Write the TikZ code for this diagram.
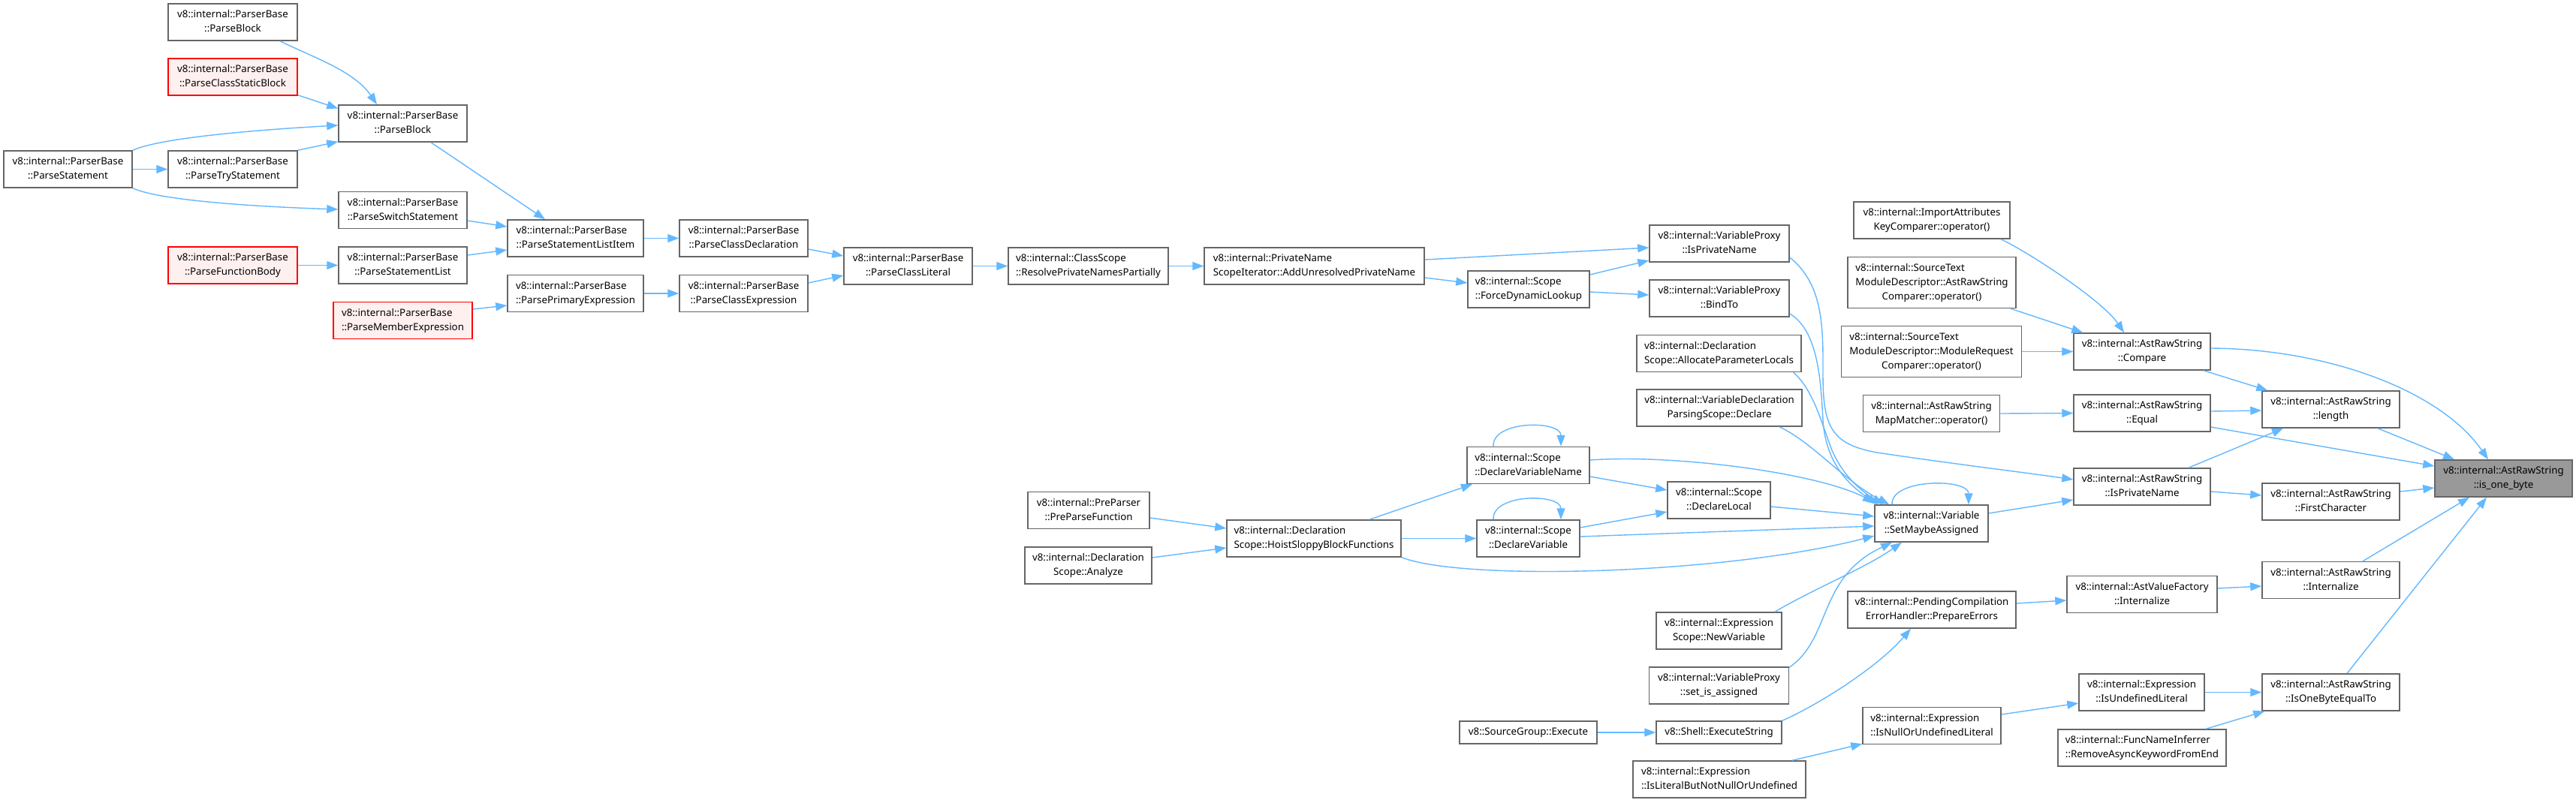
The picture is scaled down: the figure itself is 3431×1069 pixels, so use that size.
\documentclass[tikz,border=0pt]{standalone}
\usepackage{fontspec}
\setmainfont{Noto Sans}
\usetikzlibrary{arrows.meta,calc}
\definecolor{edgeblue}{HTML}{63B8FF}
\definecolor{boxgray}{HTML}{666666}
\definecolor{redfill}{HTML}{FFF0F0}
\definecolor{focusfill}{HTML}{999999}
\newcommand{\lbltwo}[2]{\begin{tabular}{@{}l@{}}#1\\\multicolumn{1}{@{}c@{}}{#2}\end{tabular}}
\newcommand{\lblthree}[3]{\begin{tabular}{@{}l@{}}#1\\#2\\\multicolumn{1}{@{}c@{}}{#3}\end{tabular}}
\newcommand{\boxfont}{\fontsize{13.3pt}{19pt}\selectfont}
\tikzset{
  box/.style={draw=boxgray, line width=1.5pt, fill=white, inner sep=0pt, font=\boxfont, minimum height=49pt},
  redbox/.style={box, draw=red, fill=redfill},
  focus/.style={box, fill=focusfill},
  calls/.style={draw=edgeblue, line width=1.4pt, -{Triangle[length=15pt,width=11pt]}}
}
\begin{document}
\begin{tikzpicture}[x=1pt,y=-1pt]
\fill[white] (0,0) rectangle (3431,1069);
\useasboundingbox (0,0) rectangle (3431,1069);

% nodes
\node[box,minimum width=172pt] (pblockA) at (310,29.5) {\lbltwo{v8::internal::ParserBase}{::ParseBlock}};
\node[redbox,minimum width=172pt] (pcsb) at (310,102.5) {\lbltwo{v8::internal::ParserBase}{::ParseClassStaticBlock}};
\node[box,minimum width=171pt] (pstmt) at (90.5,225.5) {\lbltwo{v8::internal::ParserBase}{::ParseStatement}};
\node[box,minimum width=172pt] (ptry) at (310,225.5) {\lbltwo{v8::internal::ParserBase}{::ParseTryStatement}};
\node[redbox,minimum width=172pt] (pfb) at (310,353.5) {\lbltwo{v8::internal::ParserBase}{::ParseFunctionBody}};
\node[box,minimum width=171pt] (pblock) at (536.5,164.5) {\lbltwo{v8::internal::ParserBase}{::ParseBlock}};
\node[box,minimum width=171pt] (pswitch) at (536.5,280) {\lbltwo{v8::internal::ParserBase}{::ParseSwitchStatement}};
\node[box,minimum width=171pt] (pstlist) at (536.5,353.5) {\lbltwo{v8::internal::ParserBase}{::ParseStatementList}};
\node[redbox,minimum width=185pt] (pmember) at (536.5,427) {\lbltwo{v8::internal::ParserBase}{::ParseMemberExpression}};
\node[box,minimum width=181pt] (psli) at (766.5,317.5) {\lbltwo{v8::internal::ParserBase}{::ParseStatementListItem}};
\node[box,minimum width=181pt] (pprim) at (766.5,391) {\lbltwo{v8::internal::ParserBase}{::ParsePrimaryExpression}};
\node[box,minimum width=171pt] (pcdecl) at (990.5,317.5) {\lbltwo{v8::internal::ParserBase}{::ParseClassDeclaration}};
\node[box,minimum width=171pt] (pcexpr) at (990.5,391) {\lbltwo{v8::internal::ParserBase}{::ParseClassExpression}};
\node[box,minimum width=171pt] (pclit) at (1209.5,354.5) {\lbltwo{v8::internal::ParserBase}{::ParseClassLiteral}};
\node[box,minimum width=213pt] (resolve) at (1449.5,354.5) {\lbltwo{v8::internal::ClassScope}{::ResolvePrivateNamesPartially}};
\node[box,minimum width=293pt] (addunres) at (1750.5,354.5) {\lbltwo{v8::internal::PrivateName}{ScopeIterator::AddUnresolvedPrivateName}};
\node[box,minimum width=162pt] (preparse) at (1450,680) {\lbltwo{v8::internal::PreParser}{::PreParseFunction}};
\node[box,minimum width=169pt] (analyze) at (1449.5,753.5) {\lbltwo{v8::internal::Declaration}{Scope::Analyze}};
\node[box,minimum width=232pt] (hoist) at (1750,717.5) {\lbltwo{v8::internal::Declaration}{Scope::HoistSloppyBlockFunctions}};
\node[box,minimum width=162pt] (force) at (2036,385.5) {\lbltwo{v8::internal::Scope}{::ForceDynamicLookup}};
\node[box,minimum width=163pt] (dvname) at (2035.5,620) {\lbltwo{v8::internal::Scope}{::DeclareVariableName}};
\node[box,minimum width=137pt] (dvar) at (2035.5,717.5) {\lbltwo{v8::internal::Scope}{::DeclareVariable}};
\node[box,minimum width=183pt,minimum height=30pt] (sgexec) at (2035.5,976) {v8::SourceGroup::Execute};
\node[box,minimum width=186pt] (vpipn) at (2290,324.5) {\lbltwo{v8::internal::VariableProxy}{::IsPrivateName}};
\node[box,minimum width=186pt] (bindto) at (2290,397.5) {\lbltwo{v8::internal::VariableProxy}{::BindTo}};
\node[box,minimum width=219pt] (alloc) at (2289.5,471) {\lbltwo{v8::internal::Declaration}{Scope::AllocateParameterLocals}};
\node[box,minimum width=220pt] (vdecl) at (2290,543.5) {\lbltwo{v8::internal::VariableDeclaration}{ParsingScope::Declare}};
\node[box,minimum width=137pt] (dlocal) at (2289.5,666.5) {\lbltwo{v8::internal::Scope}{::DeclareLocal}};
\node[box,minimum width=167pt] (newvar) at (2289.5,840.5) {\lbltwo{v8::internal::Expression}{Scope::NewVariable}};
\node[box,minimum width=186pt] (setassigned) at (2289.5,913.5) {\lbltwo{v8::internal::VariableProxy}{::set\_is\_assigned}};
\node[box,minimum width=167pt,minimum height=30pt] (execstr) at (2289.5,976) {v8::Shell::ExecuteString};
\node[box,minimum width=230pt] (islit) at (2290,1038.5) {\lbltwo{v8::internal::Expression}{::IsLiteralButNotNullOrUndefined}};
\node[box,minimum width=208pt] (import) at (2573,293.5) {\lbltwo{v8::internal::ImportAttributes}{KeyComparer::operator()}};
\node[box,minimum width=224pt,minimum height=68pt] (srccmp) at (2573,376.5) {\lblthree{v8::internal::SourceText}{ModuleDescriptor::AstRawString}{Comparer::operator()}};
\node[box,minimum width=240pt,minimum height=68pt] (modreq) at (2572.5,468.5) {\lblthree{v8::internal::SourceText}{ModuleDescriptor::ModuleRequest}{Comparer::operator()}};
\node[box,minimum width=182pt] (mapm) at (2572.5,551) {\lbltwo{v8::internal::AstRawString}{MapMatcher::operator()}};
\node[box,minimum width=151pt] (sma) at (2572.5,697.5) {\lbltwo{v8::internal::Variable}{::SetMaybeAssigned}};
\node[box,minimum width=224pt] (prep) at (2573,812.5) {\lbltwo{v8::internal::PendingCompilation}{ErrorHandler::PrepareErrors}};
\node[box,minimum width=184pt] (isnull) at (2573,967) {\lbltwo{v8::internal::Expression}{::IsNullOrUndefinedLiteral}};
\node[box,minimum width=182pt] (compare) at (2853,468.5) {\lbltwo{v8::internal::AstRawString}{::Compare}};
\node[box,minimum width=182pt] (equal) at (2853,550.5) {\lbltwo{v8::internal::AstRawString}{::Equal}};
\node[box,minimum width=182pt] (arisp) at (2853,648.5) {\lbltwo{v8::internal::AstRawString}{::IsPrivateName}};
\node[box,minimum width=200pt] (avfint) at (2853,792) {\lbltwo{v8::internal::AstValueFactory}{::Internalize}};
\node[box,minimum width=167pt] (isundef) at (2852.5,922.5) {\lbltwo{v8::internal::Expression}{::IsUndefinedLiteral}};
\node[box,minimum width=224pt] (rmasync) at (2853,996.5) {\lbltwo{v8::internal::FuncNameInferrer}{::RemoveAsyncKeywordFromEnd}};
\node[box,minimum width=183pt] (length) at (3104.5,545.5) {\lbltwo{v8::internal::AstRawString}{::length}};
\node[box,minimum width=183pt] (firstc) at (3104.5,668.5) {\lbltwo{v8::internal::AstRawString}{::FirstCharacter}};
\node[box,minimum width=183pt] (arint) at (3104.5,773) {\lbltwo{v8::internal::AstRawString}{::Internalize}};
\node[box,minimum width=183pt] (obeq) at (3104.5,922.5) {\lbltwo{v8::internal::AstRawString}{::IsOneByteEqualTo}};
\node[focus,minimum width=183pt] (isob) at (3334.5,637.5) {\lbltwo{v8::internal::AstRawString}{::is\_one\_byte}};

% edges
\draw[calls] ($(pblockA.south)+(63,0)$) .. controls +(40,20) and +(-30,-45) .. ($(pblock.north)+(-34.5,0)$);
\draw[calls] ($(pcsb.south east)+(0,-1)$) -- ($(pblock.west)+(0,-20)$);
\draw[calls] (pstmt.north east) .. controls +(40,-18) and +(-90,5) .. ($(pblock.west)+(0,2.5)$);
\draw[calls] (pstmt.east) -- (ptry.west);
\draw[calls] (ptry.north east) -- ($(pblock.south west)+(0,-1)$);
\draw[calls] (pstmt.south east) .. controls +(40,18) and +(-90,-3) .. ($(pswitch.west)+(0,-1)$);
\draw[calls] ($(pblock.south)+(37.5,0)$) -- ($(psli.north)+(-40.5,0)$);
\draw[calls] ($(pswitch.east)+(0,14)$) -- ($(psli.west)+(0,-15.5)$);
\draw[calls] ($(pstlist.east)+(0,-13.5)$) -- ($(psli.west)+(0,15.5)$);
\draw[calls] (pfb.east) -- (pstlist.west);
\draw[calls] ($(pmember.east)+(0,-15)$) -- ($(pprim.west)+(0,16)$);
\draw[calls] (psli.east) -- (pcdecl.west);
\draw[calls] (pprim.east) -- (pcexpr.west);
\draw[calls] ($(pcdecl.east)+(0,14.5)$) -- ($(pclit.west)+(0,-13.5)$);
\draw[calls] ($(pcexpr.east)+(0,-14)$) -- ($(pclit.west)+(0,12.5)$);
\draw[calls] (pclit.east) -- (resolve.west);
\draw[calls] (resolve.east) -- (addunres.west);
\draw[calls] ($(addunres.east)+(0,-8.5)$) -- ($(vpipn.west)+(0,5.5)$);
\draw[calls] ($(addunres.east)+(0,15.5)$) -- ($(force.west)+(0,-8.5)$);
\draw[calls] ($(force.east)+(0,-19.5)$) -- ($(vpipn.west)+(0,22.5)$);
\draw[calls] ($(force.east)+(0,3.5)$) -- ($(bindto.west)+(0,-4.5)$);
% long curves around SetMaybeAssigned
\draw[calls] ($(vpipn.east)+(0,18.5)$) .. controls (2430,380) and (2428,440) .. (2428,500)
   .. controls (2428,570) and (2440,592) .. (2500,603)
   .. controls (2600,618) and (2700,630) .. ($(arisp.west)+(0,-9.5)$);
\draw[calls] ($(bindto.east)+(0,20.5)$) .. controls (2420,440) and (2425,500) .. (2428,560)
   .. controls (2432,620) and (2465,648) .. ($(sma.north west)+(5,0)$);
\draw[calls] ($(alloc.south east)+(-11,0)$) .. controls (2415,520) and (2425,560) .. (2440,600)
   .. controls (2455,635) and (2480,655) .. ($(sma.north west)+(12,0)$);
\draw[calls] ($(vdecl.south)+(80,0)$) .. controls (2415,590) and (2455,640) .. ($(sma.north west)+(20,0)$);
\draw[calls] ($(dvname.east)+(0,-7)$) .. controls (2230,605) and (2420,630) .. ($(sma.north west)+(0,-3)$);
\draw[calls] ($(dlocal.east)+(0,8.5)$) -- ($(sma.west)+(0,-9.5)$);
\draw[calls] ($(dvar.east)+(0,-2.5)$) -- ($(sma.west)+(0,3.5)$);
\draw[calls] (hoist.south east) .. controls (1950,775) and (2300,765) .. ($(sma.west)+(0,16.5)$);
\draw[calls] ($(dvname.east)+(0,15)$) -- ($(dlocal.west)+(0,-13.5)$);
\draw[calls] ($(dvar.east)+(0,-14.5)$) -- ($(dlocal.west)+(0,15.5)$);
\draw[calls] ($(hoist.north)+(74,0)$) -- ($(dvname.south)+(-74.5,0)$);
\draw[calls] (hoist.east) -- (dvar.west);
\draw[calls] ($(preparse.east)+(0,10)$) -- ($(hoist.west)+(0,-13.5)$);
\draw[calls] ($(analyze.east)+(0,-10.5)$) -- ($(hoist.west)+(0,12.5)$);
% self loops
\draw[calls] ($(dvname.north)+(-46.5,0)$) .. controls +(-2,-35) and +(0,-35) .. ($(dvname.north)+(43.5,0)$);
\draw[calls] ($(dvar.north)+(-46.5,0)$) .. controls +(-2,-35) and +(0,-35) .. ($(dvar.north)+(43.5,0)$);
\draw[calls] ($(sma.north)+(-52.5,0)$) .. controls +(-2,-35) and +(0,-35) .. ($(sma.north)+(49.5,0)$);
% lower group
\draw[calls] ($(newvar.north)+(74.5,0)$) .. controls +(50,-30) and +(-50,35) .. ($(sma.south)+(-39.5,0)$);
\draw[calls] ($(setassigned.north east)+(0,1)$) .. controls (2440,850) and (2420,770) .. ($(sma.south)+(-52.5,0)$);
\draw[calls] (sgexec.east) -- (execstr.west);
\draw[calls] (execstr.north east) .. controls (2420,940) and (2500,890) .. ($(prep.south)+(-28,0)$);
\draw[calls] ($(islit.north)+(97,0)$) -- ($(isnull.south west)+(0,-1)$);
\draw[calls] ($(isnull.east)+(0,-15)$) -- ($(isundef.west)+(0,14.5)$);
\draw[calls] ($(sma.east)+(0,-13.5)$) -- ($(arisp.west)+(0,17.5)$);
\draw[calls] ($(prep.east)+(0,-8.5)$) -- ($(avfint.west)+(0,8)$);
% AstRawString group
\draw[calls] ($(import.south)+(92,0)$) .. controls (2700,335) and (2800,400) .. ($(compare.north)+(-24,0)$);
\draw[calls] ($(srccmp.south)+(105,0)$) -- ($(compare.north west)+(13,0)$);
\draw[calls] (modreq.east) -- (compare.west);
\draw[calls] (mapm.east) -- (equal.west);
\draw[calls] ($(compare.east)+(0,-4.5)$) .. controls (3100,465) and (3250,520) .. ($(isob.north)+(-20.5,0)$);
\draw[calls] ($(compare.south)+(82,0)$) -- ($(length.north west)+(8,0)$);
\draw[calls] ($(equal.east)+(0,-2.5)$) -- ($(length.west)+(0,1.5)$);
\draw[calls] ($(equal.east)+(0,18.5)$) -- ($(isob.west)+(0,-16.5)$);
\draw[calls] ($(arisp.north)+(62,0)$) -- ($(length.south)+(-63.5,0)$);
\draw[calls] ($(arisp.east)+(0,6.5)$) -- ($(firstc.west)+(0,-8.5)$);
\draw[calls] ($(length.south)+(62.5,0)$) -- ($(isob.north)+(-65.5,0)$);
\draw[calls] ($(firstc.east)+(0,-13.5)$) -- ($(isob.west)+(0,12.5)$);
\draw[calls] ($(arint.north)+(42.5,0)$) -- ($(isob.south)+(-45.5,0)$);
\draw[calls] ($(obeq.north)+(21.5,0)$) -- ($(isob.south)+(-22.5,0)$);
\draw[calls] ($(avfint.east)+(0,-8)$) -- ($(arint.west)+(0,8)$);
\draw[calls] (isundef.east) -- (obeq.west);
\draw[calls] ($(rmasync.north)+(85,0)$) -- ($(obeq.south west)+(4,0)$);
\end{tikzpicture}
\end{document}
